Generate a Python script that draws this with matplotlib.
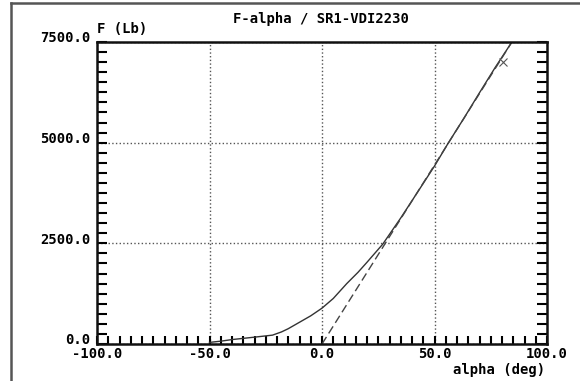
import matplotlib.pyplot as plt
from matplotlib.lines import Line2D
from matplotlib.ticker import MultipleLocator
import matplotlib.transforms as mtransforms

# measured curve F(alpha)
alpha = [-50, -45, -40, -35, -30, -22, -18, -15, -10, -5, 0, 5, 11, 16, 20, 27, 35, 42, 50, 56, 63, 70, 77, 84.4]
force = [40, 70, 110, 140, 170, 220, 300, 380, 540, 700, 890, 1130, 1500, 1780, 2030, 2480, 3130, 3730, 4420, 4980, 5600, 6240, 6870, 7500]

# straight-line fit (dashed)
alpha_fit = [0.0, 84.4]
force_fit = [0.0, 7500.0]

# marker on the fit line
alpha_mark = [80.4]
force_mark = [7000]

xticks = [-100, -50, 0, 50, 100]
yticks = [0, 2500, 5000, 7500]

font = {"family": "DejaVu Sans Mono", "weight": "bold", "size": 10}

fig = plt.figure(figsize=(5.8, 3.81), dpi=100)
ax = fig.add_axes([97 / 580, 37 / 381, 450 / 580, 302 / 381])

ax.plot(alpha, force, color="#333333", lw=1.0)
ax.plot(alpha_fit, force_fit, color="#444444", lw=1.0, dashes=(6, 3))
ax.plot(alpha_mark, force_mark, ls="none", marker="x", ms=6, mew=0.8, color="#555555")

ax.set_xlim(-100, 100)
ax.set_ylim(0, 7500)
ax.set_xticks(xticks)
ax.set_yticks(yticks)
ax.set_xticklabels([f"{v:.1f}" for v in xticks], fontdict=font)
ax.set_yticklabels([f"{v:.1f}" for v in yticks], fontdict=font)
ax.xaxis.set_minor_locator(MultipleLocator(5))
ax.yaxis.set_minor_locator(MultipleLocator(250))

ax.tick_params(axis="x", which="both", direction="in", length=6, width=1.5,
               top=False, bottom=True, pad=2)
ax.tick_params(axis="y", which="both", direction="in", length=7, width=1.5,
               left=True, right=True, pad=5)

# y labels sit slightly above their ticks
offset = mtransforms.ScaledTranslation(0, 5 / 100, fig.dpi_scale_trans)
for lab in ax.get_yticklabels():
    lab.set_transform(lab.get_transform() + offset)

ax.grid(True, which="major", ls=":", color="#555555", lw=1.0)
for s in ax.spines.values():
    s.set_linewidth(1.8)
    s.set_color("#111111")

fig.text(321 / 580, 1 - 19 / 381, "F-alpha / SR1-VDI2230", ha="center", va="center", **font)
fig.text(97 / 580, 1 - 29 / 381, "F (Lb)", ha="left", va="center", **font)
fig.text(545 / 580, 1 - 370 / 381, "alpha (deg)", ha="right", va="center", **font)

# outer frame (left and top edges visible)
fig.add_artist(Line2D([11 / 580, 11 / 580], [0, 1 - 3 / 381], transform=fig.transFigure,
                      color="#555555", lw=1.8))
fig.add_artist(Line2D([11 / 580, 1], [1 - 3 / 381, 1 - 3 / 381], transform=fig.transFigure,
                      color="#555555", lw=1.8))

fig.savefig("out.png", dpi=100)
